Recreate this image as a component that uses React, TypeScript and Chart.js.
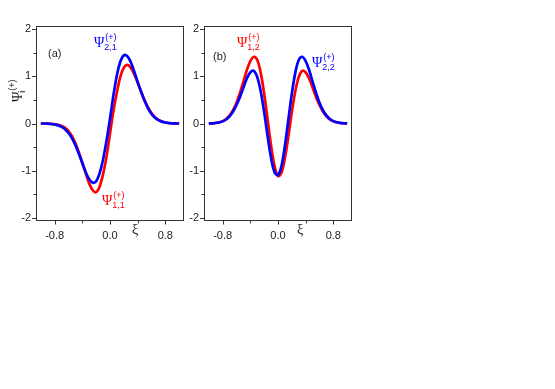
import React, { useEffect, useRef } from "react";
import { Chart, registerables } from "chart.js";

Chart.register(...registerables);

// ---- data ----
const XI = [
  -1.0, -0.95, -0.9, -0.85, -0.8, -0.75, -0.7, -0.65, -0.6, -0.55, -0.5, -0.45, -0.4, -0.35, -0.3, -0.25, -0.2, -0.15, -0.1, -0.05,
  0.0, 0.05, 0.1, 0.15, 0.2, 0.25, 0.3, 0.35, 0.4, 0.45, 0.5, 0.55, 0.6, 0.65, 0.7, 0.75, 0.8, 0.85, 0.9, 0.95, 1.0,
];

// panel (a)
const PSI_11 = [
  0, 0, -0.003, -0.008, -0.017, -0.03, -0.055, -0.09, -0.16, -0.27, -0.42, -0.61, -0.83, -1.06, -1.27, -1.41, -1.45, -1.33, -1.07, -0.7,
  -0.21, 0.27, 0.66, 0.99, 1.18, 1.24, 1.18, 1.04, 0.86, 0.67, 0.49, 0.34, 0.22, 0.135, 0.078, 0.042, 0.021, 0.01, 0.004, 0.001, 0,
];
const PSI_21 = [
  0, 0, -0.004, -0.01, -0.02, -0.04, -0.07, -0.12, -0.2, -0.31, -0.46, -0.64, -0.84, -1.03, -1.18, -1.25, -1.22, -1.05, -0.76, -0.36,
  0.1, 0.6, 1.02, 1.31, 1.44, 1.42, 1.3, 1.1, 0.88, 0.67, 0.48, 0.32, 0.2, 0.12, 0.07, 0.04, 0.02, 0.009, 0.004, 0.001, 0,
];

// panel (b)
const PSI_12 = [
  0.002, 0.005, 0.012, 0.025, 0.05, 0.095, 0.17, 0.28, 0.44, 0.645, 0.885, 1.13, 1.32, 1.41, 1.34, 1.07, 0.63, 0.08, -0.47, -0.9,
  -1.11, -1.04, -0.73, -0.27, 0.24, 0.68, 0.98, 1.11, 1.08, 0.95, 0.76, 0.56, 0.39, 0.25, 0.15, 0.085, 0.045, 0.022, 0.01, 0.004, 0.002,
];
const PSI_22 = [
  0.002, 0.004, 0.01, 0.022, 0.045, 0.085, 0.15, 0.25, 0.39, 0.56, 0.76, 0.95, 1.08, 1.11, 0.98, 0.68, 0.24, -0.27, -0.73, -1.03,
  -1.09, -0.9, -0.47, 0.08, 0.63, 1.07, 1.34, 1.41, 1.32, 1.13, 0.885, 0.645, 0.44, 0.28, 0.17, 0.095, 0.05, 0.025, 0.012, 0.005, 0.002,
];

const X_TICKS = [-0.8, 0, 0.8];
const X_MINOR = [-0.4, 0.4];
const Y_TICKS = [-2, -1, 0, 1, 2];
const Y_MINOR = [-1.5, -0.5, 0.5, 1.5];

const RED = "#ff0000";
const BLUE = "#0000ff";
const INK = "#222222";
const SANS = '"Liberation Sans", Arial, sans-serif';
const SERIF = '"Liberation Serif", "Times New Roman", serif';

type PsiLabel = { x: number; y: number; sub: string; color: string };
type PanelSpec = {
  left: number;
  red: number[];
  blue: number[];
  tag: string;
  tagX: number;
  tagY: number;
  xiX: number;
  labels: PsiLabel[];
  yTitle: boolean;
};

const CW = 190;
const CH = 260;

function drawPsi(ctx: CanvasRenderingContext2D, x: number, y: number, sub: string, color: string) {
  ctx.fillStyle = color;
  ctx.textAlign = "left";
  ctx.textBaseline = "alphabetic";
  ctx.font = `14px ${SERIF}`;
  ctx.fillText("\u03A8", x, y);
  const w = ctx.measureText("\u03A8").width;
  ctx.font = `9px ${SANS}`;
  ctx.fillText("(+)", x + w + 1, y - 7);
  ctx.fillText(sub, x + w, y + 3);
}

function makePlugin(spec: PanelSpec) {
  return {
    id: "decor",
    afterDraw(chart: any) {
      const { ctx, chartArea: a, scales } = chart;
      const xs = scales.x;
      const ys = scales.y;
      ctx.save();
      // frame
      ctx.strokeStyle = "#333";
      ctx.lineWidth = 1;
      ctx.strokeRect(a.left + 0.5, a.top + 0.5, a.right - a.left - 1, a.bottom - a.top - 1);
      // tick marks
      ctx.beginPath();
      for (const v of Y_TICKS) {
        const p = Math.round(ys.getPixelForValue(v)) + 0.5;
        ctx.moveTo(a.left - 4, p);
        ctx.lineTo(a.left + 0.5, p);
      }
      for (const v of Y_MINOR) {
        const p = Math.round(ys.getPixelForValue(v)) + 0.5;
        ctx.moveTo(a.left - 2.5, p);
        ctx.lineTo(a.left + 0.5, p);
      }
      for (const v of X_TICKS) {
        const p = Math.round(xs.getPixelForValue(v)) + 0.5;
        ctx.moveTo(p, a.bottom - 0.5);
        ctx.lineTo(p, a.bottom + 3.5);
      }
      for (const v of X_MINOR) {
        const p = Math.round(xs.getPixelForValue(v)) + 0.5;
        ctx.moveTo(p, a.bottom - 0.5);
        ctx.lineTo(p, a.bottom + 2.5);
      }
      ctx.stroke();

      const off = spec.left;
      // panel tag
      ctx.fillStyle = INK;
      ctx.font = `11px ${SANS}`;
      ctx.textAlign = "left";
      ctx.textBaseline = "alphabetic";
      ctx.fillText(spec.tag, spec.tagX - off, spec.tagY);

      // xi axis title
      ctx.font = `14px ${SERIF}`;
      ctx.textAlign = "center";
      ctx.fillText("\u03BE", spec.xiX - off, 234);

      // curve labels
      for (const l of spec.labels) drawPsi(ctx, l.x - off, l.y, l.sub, l.color);

      // y title
      if (spec.yTitle) {
        ctx.save();
        ctx.translate(22 - off, 102);
        ctx.rotate(-Math.PI / 2);
        ctx.fillStyle = INK;
        ctx.textAlign = "left";
        ctx.font = `14px ${SERIF}`;
        ctx.fillText("\u03A8", 0, 0);
        const w = ctx.measureText("\u03A8").width;
        ctx.font = `9px ${SANS}`;
        ctx.fillText("(+)", w + 1, -7);
        ctx.fillText("i", w - 1, 3);
        ctx.restore();
      }
      ctx.restore();
    },
  };
}

function Panel({ spec }: { spec: PanelSpec }) {
  const ref = useRef<HTMLCanvasElement>(null);
  useEffect(() => {
    const toPts = (arr: number[]) => XI.map((x, i) => ({ x, y: arr[i] }));
    const font = { family: SANS, size: 11 };
    const chart = new Chart(ref.current!, {
      type: "line",
      data: {
        datasets: [
          { data: toPts(spec.blue), borderColor: BLUE, borderWidth: 2.7, pointRadius: 0, tension: 0.35, fill: false },
          { data: toPts(spec.red), borderColor: RED, borderWidth: 2.7, pointRadius: 0, tension: 0.35, fill: false },
        ],
      },
      options: {
        animation: false,
        responsive: false,
        events: [],
        layout: { padding: { top: 26, right: 6, left: 0, bottom: 0 } },
        plugins: { legend: { display: false }, tooltip: { enabled: false } },
        scales: {
          x: {
            type: "linear",
            min: -1.07,
            max: 1.07,
            afterBuildTicks: (s: any) => {
              s.ticks = X_TICKS.map((v) => ({ value: v }));
            },
            afterFit: (s: any) => {
              s.height = CH - 221;
            },
            ticks: {
              callback: (v: any) => Number(v).toFixed(1),
              font,
              color: INK,
              padding: 8,
              maxRotation: 0,
              autoSkip: false,
            },
            grid: { display: false, drawTicks: false },
            border: { display: false },
          },
          y: {
            type: "linear",
            min: -2.06,
            max: 2.06,
            afterBuildTicks: (s: any) => {
              s.ticks = Y_TICKS.map((v) => ({ value: v }));
            },
            afterFit: (s: any) => {
              s.width = 36;
            },
            ticks: {
              callback: (v: any) => String(v),
              font,
              color: INK,
              padding: 5,
              autoSkip: false,
            },
            grid: { display: false, drawTicks: false },
            border: { display: false },
          },
        },
      } as any,
      plugins: [makePlugin(spec)],
    });
    return () => chart.destroy();
  }, []);
  return (
    <div style={{ position: "absolute", left: spec.left, top: 0, width: CW, height: CH }}>
      <canvas ref={ref} width={CW} height={CH} style={{ width: CW, height: CH, display: "block" }} />
    </div>
  );
}

const PANEL_A: PanelSpec = {
  left: 0,
  red: PSI_11,
  blue: PSI_21,
  tag: "(a)",
  tagX: 48,
  tagY: 57,
  xiX: 135,
  yTitle: true,
  labels: [
    { x: 94, y: 47, sub: "2,1", color: BLUE },
    { x: 102, y: 205, sub: "1,1", color: RED },
  ],
};

const PANEL_B: PanelSpec = {
  left: 168,
  red: PSI_12,
  blue: PSI_22,
  tag: "(b)",
  tagX: 213,
  tagY: 60,
  xiX: 300,
  yTitle: false,
  labels: [
    { x: 237, y: 47, sub: "1,2", color: RED },
    { x: 312, y: 67, sub: "2,2", color: BLUE },
  ],
};

export default function App() {
  return (
    <div style={{ position: "absolute", left: 0, top: 0, width: 555, height: 389, background: "#fff" }}>
      <Panel spec={PANEL_A} />
      <Panel spec={PANEL_B} />
    </div>
  );
}
